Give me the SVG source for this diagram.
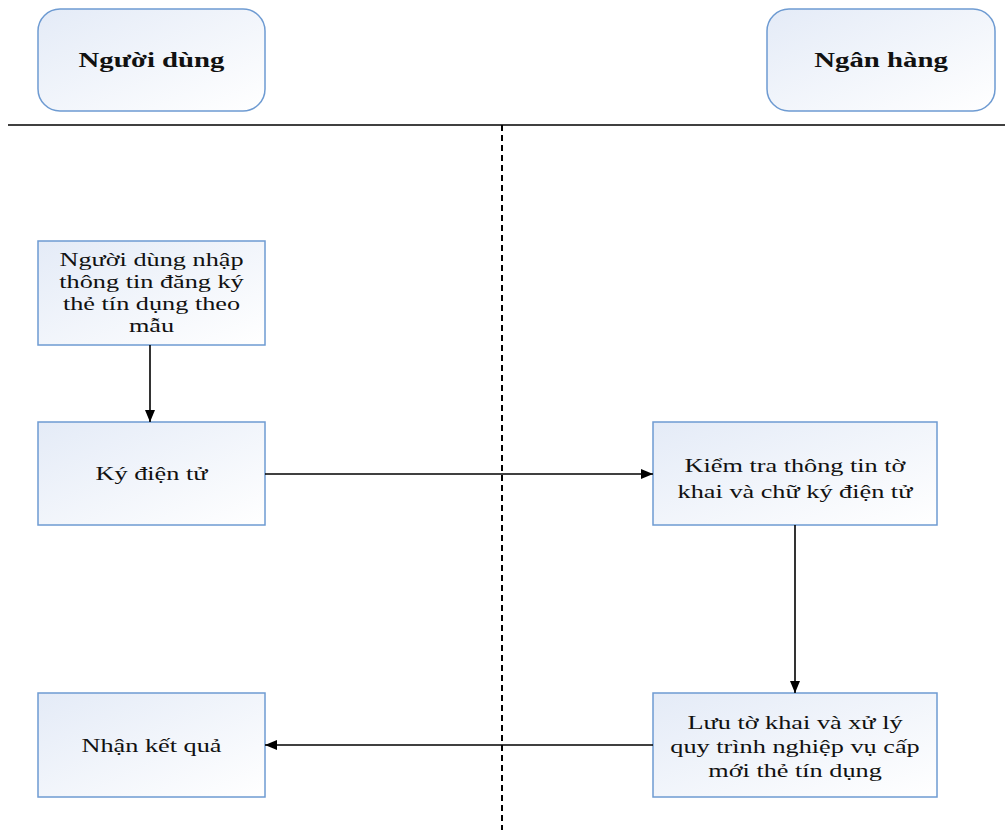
<svg xmlns="http://www.w3.org/2000/svg" width="1005" height="830" viewBox="0 0 1005 830">
  <style>
    .box { fill: url(#boxFill); stroke: #6e9bd2; stroke-width: 1.5; }
    .lbl { font-family: "Liberation Serif", "Times New Roman", serif; font-size: 18.5px; fill: #111; text-anchor: middle; }
    .hdr { font-family: "Liberation Serif", "Times New Roman", serif; font-size: 20px; font-weight: bold; fill: #111; text-anchor: middle; }
    .flow { stroke: #000; stroke-width: 1.6; fill: none; marker-end: url(#arrow); }
  </style>
  <defs>
    <linearGradient id="boxFill" x1="0" y1="0" x2="1" y2="1">
      <stop offset="0" stop-color="#e4ebf7"/>
      <stop offset="1" stop-color="#ffffff"/>
    </linearGradient>
    <marker id="arrow" viewBox="0 0 12 10" refX="12" refY="5" markerWidth="12" markerHeight="10" markerUnits="userSpaceOnUse" orient="auto">
      <path d="M0,0 L12,5 L0,10 Z" fill="#000"/>
    </marker>
  </defs>

  <!-- lane headers -->
  <g id="lane-user">
    <rect class="box" x="38" y="9" width="227" height="102" rx="22" ry="22"/>
    <text class="hdr" transform="translate(151.5,67) scale(1.44,1)">Người dùng</text>
  </g>
  <g id="lane-bank">
    <rect class="box" x="767" y="9" width="228" height="102" rx="22" ry="22"/>
    <text class="hdr" transform="translate(881,67) scale(1.44,1)">Ngân hàng</text>
  </g>

  <!-- lane separators -->
  <g id="separators">
    <line x1="8" y1="125" x2="1005" y2="125" stroke="#000" stroke-width="1.5"/>
    <line x1="502" y1="125" x2="502" y2="830" stroke="#000" stroke-width="2" stroke-dasharray="6,4"/>
  </g>

  <!-- steps -->
  <g id="step-input">
    <rect class="box" x="38" y="241" width="227" height="104"/>
    <text class="lbl" transform="translate(151.5,266) scale(1.42,1)">Người dùng nhập</text>
    <text class="lbl" transform="translate(151.5,288) scale(1.42,1)">thông tin đăng ký</text>
    <text class="lbl" transform="translate(151.5,310) scale(1.42,1)">thẻ tín dụng theo</text>
    <text class="lbl" transform="translate(151.5,332) scale(1.42,1)">mẫu</text>
  </g>
  <g id="step-sign">
    <rect class="box" x="38" y="422" width="227" height="103"/>
    <text class="lbl" transform="translate(151.5,480) scale(1.42,1)">Ký điện tử</text>
  </g>
  <g id="step-verify">
    <rect class="box" x="653" y="422" width="284" height="103"/>
    <text class="lbl" transform="translate(795,472) scale(1.42,1)">Kiểm tra thông tin tờ</text>
    <text class="lbl" transform="translate(795,498) scale(1.42,1)">khai và chữ ký điện tử</text>
  </g>
  <g id="step-process">
    <rect class="box" x="653" y="693" width="284" height="104"/>
    <text class="lbl" transform="translate(795,729) scale(1.42,1)">Lưu tờ khai và xử lý</text>
    <text class="lbl" transform="translate(795,753) scale(1.42,1)">quy trình nghiệp vụ cấp</text>
    <text class="lbl" transform="translate(795,777) scale(1.42,1)">mới thẻ tín dụng</text>
  </g>
  <g id="step-result">
    <rect class="box" x="38" y="693" width="227" height="104"/>
    <text class="lbl" transform="translate(151.5,752) scale(1.42,1)">Nhận kết quả</text>
  </g>

  <!-- connectors -->
  <g id="connectors">
    <line class="flow" x1="150" y1="345" x2="150" y2="422"/>
    <line class="flow" x1="265" y1="474" x2="653" y2="474"/>
    <line class="flow" x1="795" y1="525" x2="795" y2="693"/>
    <line class="flow" x1="653" y1="745" x2="265" y2="745"/>
  </g>
</svg>
